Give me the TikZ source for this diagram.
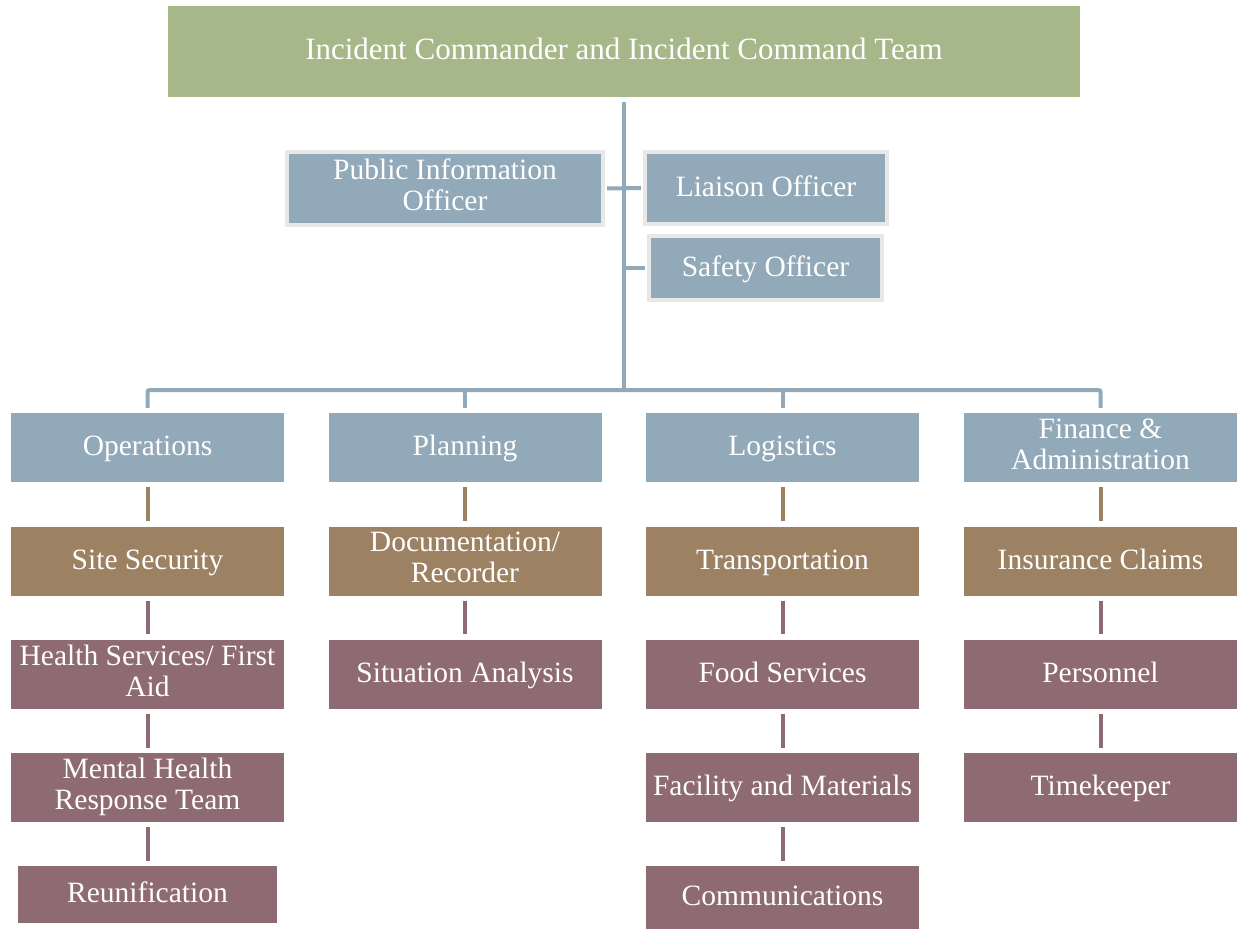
\documentclass[tikz,border=0pt]{standalone}
\usepackage{fontspec}
\setmainfont{Liberation Serif}
\definecolor{cmdgreen}{HTML}{A6B78A}
\definecolor{secblue}{HTML}{92A9B9}
\definecolor{unitbrown}{HTML}{9C8163}
\definecolor{taskmauve}{HTML}{8E6A73}
\definecolor{rimgray}{HTML}{E8E8E8}
\newcommand\boxstrut{\vrule width 0pt height 23pt depth 7pt}
\begin{document}
\begin{tikzpicture}
        [
          x=1pt, y=-1pt,
          every node/.style={text=white, align=center, inner sep=0pt,
            font=\fontsize{29.5}{31}\selectfont,
            execute at begin node=\boxstrut, execute at end node=\boxstrut},
          box/.style={minimum width=273pt, minimum height=69pt},
          cmd/.style={fill=cmdgreen, font=\fontsize{31}{33}\selectfont},
          staff/.style={fill=secblue, draw=rimgray, line width=4pt},
          section/.style={box, fill=secblue},
          unit/.style={box, fill=unitbrown},
          task/.style={box, fill=taskmauve},
          trunk/.style={draw=secblue, line width=4pt},
          unitlink/.style={draw=unitbrown, line width=4pt, shorten <=5pt, shorten >=5pt},
          tasklink/.style={draw=taskmauve, line width=4pt, shorten <=5pt, shorten >=5pt}
        ]
        \useasboundingbox (0,0) rectangle (1238,930);
        % command
        \node [cmd, minimum width=912pt, minimum height=91pt] (ict) at (624,51.5)
          {Incident Commander and Incident Command Team};
        % command staff
        \node [staff, minimum width=316pt, minimum height=73pt] (pio) at (445,188.5) {Public Information\\Officer};
        \node [staff, minimum width=242pt, minimum height=72pt] (liaison) at (766,188) {Liaison Officer};
        \node [staff, minimum width=233pt, minimum height=64pt] (safety) at (765.5,268) {Safety Officer};
        % sections
        \node [section] (ops) at (147.5,447.5) {Operations};
        \node [section] (plan) at (465,447.5) {Planning};
        \node [section] (logi) at (782.5,447.5) {Logistics};
        \node [section] (fin) at (1100.5,447.5) {Finance \&\\Administration};
        % units
        \node [unit] (sec) at (147.5,561) {Site Security};
        \node [unit] (doc) at (465,561) {Documentation/\\Recorder};
        \node [unit] (trans) at (782.5,561) {Transportation};
        \node [unit] (claims) at (1100.5,561) {Insurance Claims};
        % tasks
        \node [task] (health) at (147.5,674) {Health Services/ First\\Aid};
        \node [task] (sit) at (465,674) {Situation Analysis};
        \node [task] (food) at (782.5,674) {Food Services};
        \node [task] (pers) at (1100.5,674) {Personnel};
        \node [task] (mental) at (147.5,787.5) {Mental Health\\Response Team};
        \node [task] (facil) at (782.5,787.5) {Facility and Materials};
        \node [task] (keeper) at (1100.5,787.5) {Timekeeper};
        \node [task, minimum width=259pt, minimum height=57pt] (reunif) at (147.5,894.5) {Reunification};
        \node [task, minimum height=63pt] (comms) at (782.5,897.5) {Communications};
        % trunk edges
        \coordinate (hub) at (624,390);
        \draw [trunk, shorten <=5pt] (ict.south) -- (hub);
        \draw [trunk, shorten <=2pt, shorten >=2pt] (pio.east) -- (liaison.west);
        \draw [trunk, shorten <=2pt] (safety.west) -- (safety.west -| hub);
        \draw [trunk, rounded corners=2pt, shorten <=5pt, shorten >=5pt]
        (ops.north) |- (hub) -| (fin.north);
        \draw [trunk, shorten <=5pt] (plan.north) -- (plan.north |- hub);
        \draw [trunk, shorten <=5pt] (logi.north) -- (logi.north |- hub);
        % unit edges
        \foreach \a/\b in {ops/sec, plan/doc, logi/trans, fin/claims} {
            \draw [unitlink] (\a) -- (\b);
        }
        % task edges
        \foreach \a/\b in {sec/health, health/mental, mental/reunif, doc/sit,
                           trans/food, food/facil, facil/comms, claims/pers, pers/keeper} {
            \draw [tasklink] (\a) -- (\b);
        }
\end{tikzpicture}
\end{document}
